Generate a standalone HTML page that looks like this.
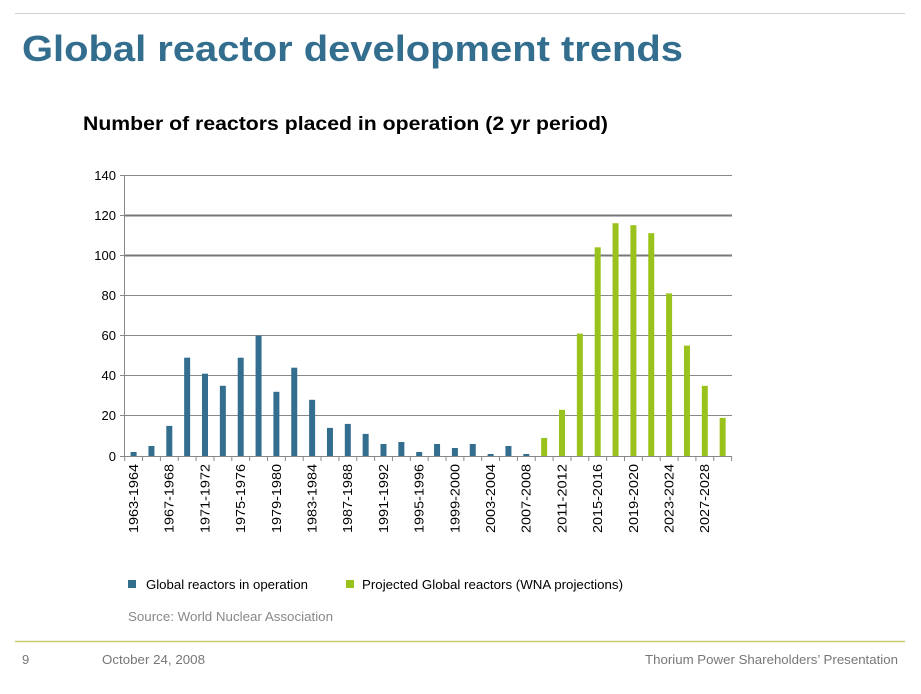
<!DOCTYPE html>
<html><head><meta charset="utf-8"><style>
html,body{margin:0;padding:0;background:#fff;}
svg{display:block;font-family:"Liberation Sans",Arial,sans-serif;}
</style></head><body>
<svg width="921" height="694" viewBox="0 0 921 694" xmlns="http://www.w3.org/2000/svg">
<line x1="15" y1="13.5" x2="905" y2="13.5" stroke="#d0d0d0" stroke-width="1"/>
<text x="22" y="61" font-size="36" font-weight="bold" fill="#336e8f" textLength="661" lengthAdjust="spacingAndGlyphs">Global reactor development trends</text>
<text x="83" y="130" font-size="19" font-weight="bold" fill="#000" textLength="525" lengthAdjust="spacingAndGlyphs">Number of reactors placed in operation (2 yr period)</text>
<g stroke="#888" stroke-width="1">
<line x1="125" y1="175.5" x2="732" y2="175.5"/>
<line x1="125" y1="215.5" x2="732" y2="215.5" stroke="#777" stroke-width="2"/>
<line x1="125" y1="255.5" x2="732" y2="255.5" stroke="#777" stroke-width="2"/>
<line x1="125" y1="295.5" x2="732" y2="295.5"/>
<line x1="125" y1="335.5" x2="732" y2="335.5"/>
<line x1="125" y1="375.5" x2="732" y2="375.5"/>
<line x1="125" y1="415.5" x2="732" y2="415.5"/>
<line x1="125" y1="456.5" x2="732" y2="456.5"/>
<line x1="124.5" y1="175" x2="124.5" y2="457"/>
<line x1="120" y1="175.5" x2="125" y2="175.5"/><line x1="120" y1="215.5" x2="125" y2="215.5"/><line x1="120" y1="255.5" x2="125" y2="255.5"/><line x1="120" y1="295.5" x2="125" y2="295.5"/><line x1="120" y1="335.5" x2="125" y2="335.5"/><line x1="120" y1="375.5" x2="125" y2="375.5"/><line x1="120" y1="415.5" x2="125" y2="415.5"/><line x1="120" y1="456.5" x2="125" y2="456.5"/>
</g>
<g stroke="#888" stroke-width="1">
<path d="M124.7 456v5M142.55 456v5M160.4 456v5M178.25 456v5M196.1 456v5M213.95 456v5M231.8 456v5M249.65 456v5M267.5 456v5M285.35 456v5M303.2 456v5M321.05 456v5M338.9 456v5M356.75 456v5M374.6 456v5M392.45 456v5M410.3 456v5M428.15 456v5M446 456v5M463.85 456v5M481.7 456v5M499.55 456v5M517.4 456v5M535.25 456v5M553.1 456v5M570.95 456v5M588.8 456v5M606.65 456v5M624.5 456v5M642.35 456v5M660.2 456v5M678.05 456v5M695.9 456v5M713.75 456v5M731.6 456v5"/>
</g>
<g font-size="13" fill="#000" text-anchor="end">
<text x="116" y="180">140</text><text x="116" y="220">120</text><text x="116" y="260">100</text><text x="116" y="300">80</text><text x="116" y="340">60</text><text x="116" y="380">40</text><text x="116" y="420">20</text><text x="116" y="461">0</text>
</g>
<g fill="#336e8f">
<rect x="130.6" y="452" width="6" height="4"/>
<rect x="148.45" y="446" width="6" height="10"/>
<rect x="166.3" y="425.9" width="6" height="30.1"/>
<rect x="184.15" y="357.7" width="6" height="98.3"/>
<rect x="202" y="373.7" width="6" height="82.3"/>
<rect x="219.85" y="385.8" width="6" height="70.2"/>
<rect x="237.7" y="357.7" width="6" height="98.3"/>
<rect x="255.55" y="335.6" width="6" height="120.4"/>
<rect x="273.4" y="391.8" width="6" height="64.2"/>
<rect x="291.25" y="367.7" width="6" height="88.3"/>
<rect x="309.1" y="399.8" width="6" height="56.2"/>
<rect x="326.95" y="427.9" width="6" height="28.1"/>
<rect x="344.8" y="423.9" width="6" height="32.1"/>
<rect x="362.65" y="433.9" width="6" height="22.1"/>
<rect x="380.5" y="444" width="6" height="12"/>
<rect x="398.35" y="442" width="6" height="14"/>
<rect x="416.2" y="452" width="6" height="4"/>
<rect x="434.05" y="444" width="6" height="12"/>
<rect x="451.9" y="448" width="6" height="8"/>
<rect x="469.75" y="444" width="6" height="12"/>
<rect x="487.6" y="454" width="6" height="2"/>
<rect x="505.45" y="446" width="6" height="10"/>
<rect x="523.3" y="454" width="6" height="2"/>
</g>
<g fill="#99c31c">
<rect x="541.15" y="437.9" width="6" height="18.1"/>
<rect x="559" y="409.8" width="6" height="46.2"/>
<rect x="576.85" y="333.6" width="6" height="122.4"/>
<rect x="594.7" y="247.3" width="6" height="208.7"/>
<rect x="612.55" y="223.2" width="6" height="232.8"/>
<rect x="630.4" y="225.2" width="6" height="230.8"/>
<rect x="648.25" y="233.2" width="6" height="222.8"/>
<rect x="666.1" y="293.4" width="6" height="162.6"/>
<rect x="683.95" y="345.6" width="6" height="110.4"/>
<rect x="701.8" y="385.8" width="6" height="70.2"/>
<rect x="719.65" y="417.9" width="6" height="38.1"/>
</g>
<g font-size="13" fill="#000" text-anchor="end">
<text transform="translate(138,464) rotate(-90)" textLength="69" lengthAdjust="spacingAndGlyphs">1963-1964</text>
<text transform="translate(173.7,464) rotate(-90)" textLength="69" lengthAdjust="spacingAndGlyphs">1967-1968</text>
<text transform="translate(209.4,464) rotate(-90)" textLength="69" lengthAdjust="spacingAndGlyphs">1971-1972</text>
<text transform="translate(245.1,464) rotate(-90)" textLength="69" lengthAdjust="spacingAndGlyphs">1975-1976</text>
<text transform="translate(280.8,464) rotate(-90)" textLength="69" lengthAdjust="spacingAndGlyphs">1979-1980</text>
<text transform="translate(316.5,464) rotate(-90)" textLength="69" lengthAdjust="spacingAndGlyphs">1983-1984</text>
<text transform="translate(352.2,464) rotate(-90)" textLength="69" lengthAdjust="spacingAndGlyphs">1987-1988</text>
<text transform="translate(387.9,464) rotate(-90)" textLength="69" lengthAdjust="spacingAndGlyphs">1991-1992</text>
<text transform="translate(423.6,464) rotate(-90)" textLength="69" lengthAdjust="spacingAndGlyphs">1995-1996</text>
<text transform="translate(459.3,464) rotate(-90)" textLength="69" lengthAdjust="spacingAndGlyphs">1999-2000</text>
<text transform="translate(495,464) rotate(-90)" textLength="69" lengthAdjust="spacingAndGlyphs">2003-2004</text>
<text transform="translate(530.7,464) rotate(-90)" textLength="69" lengthAdjust="spacingAndGlyphs">2007-2008</text>
<text transform="translate(566.4,464) rotate(-90)" textLength="69" lengthAdjust="spacingAndGlyphs">2011-2012</text>
<text transform="translate(602.1,464) rotate(-90)" textLength="69" lengthAdjust="spacingAndGlyphs">2015-2016</text>
<text transform="translate(637.8,464) rotate(-90)" textLength="69" lengthAdjust="spacingAndGlyphs">2019-2020</text>
<text transform="translate(673.5,464) rotate(-90)" textLength="69" lengthAdjust="spacingAndGlyphs">2023-2024</text>
<text transform="translate(709.2,464) rotate(-90)" textLength="69" lengthAdjust="spacingAndGlyphs">2027-2028</text>
</g>
<rect x="128" y="580" width="8" height="8" fill="#336e8f"/>
<text x="146" y="589" font-size="13" fill="#000" textLength="162" lengthAdjust="spacingAndGlyphs">Global reactors in operation</text>
<rect x="346" y="580" width="8" height="8" fill="#99c31c"/>
<text x="362" y="589" font-size="13" fill="#000" textLength="261" lengthAdjust="spacingAndGlyphs">Projected Global reactors (WNA projections)</text>
<text x="128" y="621" font-size="13" fill="#888" textLength="205" lengthAdjust="spacingAndGlyphs">Source: World Nuclear Association</text>
<line x1="15" y1="641.5" x2="905" y2="641.5" stroke="#c5cf6e" stroke-width="1.5"/>
<g font-size="13" fill="#777">
<text x="22" y="664">9</text>
<text x="102" y="664" textLength="103" lengthAdjust="spacingAndGlyphs">October 24, 2008</text>
<text x="645" y="664" textLength="253" lengthAdjust="spacingAndGlyphs">Thorium Power Shareholders’ Presentation</text>
</g>
</svg>
</body></html>
